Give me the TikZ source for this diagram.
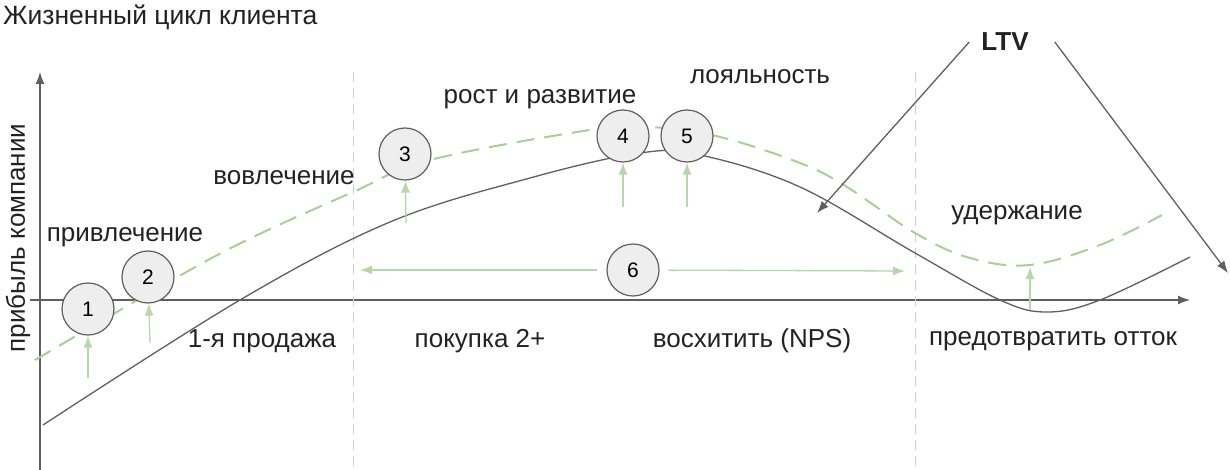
\documentclass[tikz,border=0pt]{standalone}
\usepackage{fontspec}
\setmainfont{Liberation Sans}
\usetikzlibrary{arrows.meta}
\definecolor{axisgrey}{HTML}{5F5F5F}
\definecolor{pushgreen}{HTML}{B6D7A8}
\definecolor{dashgreen}{HTML}{A8CF96}
\definecolor{stagefill}{HTML}{EEEEEE}
\definecolor{sepgrey}{HTML}{D0D0D0}
\definecolor{textgrey}{HTML}{222222}
\tikzset{
  stage/.style={circle,draw=axisgrey,fill=stagefill,line width=1.2pt,minimum size=52pt,inner sep=0pt,font=\fontsize{21}{21}\selectfont},
  lbl/.style={text=textgrey,inner sep=0pt,font=\fontsize{26}{29}\selectfont},
  push/.style={->,draw=pushgreen,line width=1.3pt},
  grey/.style={axisgrey,line width=1.3pt}
}
\begin{document}
\begin{tikzpicture}[x=1pt,y=-1pt,>={Latex[length=12pt,width=9pt]}]
\useasboundingbox (0,0) rectangle (1230,470);
% axes and stage borders
\draw[->,grey] (40,470)--(40,72);
\draw[->,grey] (30,300)--(1190,300);
\foreach \x in {353,915}
    \draw[sepgrey,line width=1pt,dash pattern=on 10pt off 6pt] (\x,72)--(\x,470);

% profit curve and target curve
\draw[grey] plot[smooth,tension=0.6] coordinates {(43,425) (240,300) (390,222) (530,178) (640,153) (700,155) (800,187) (915,253) (1000,300) (1047,312) (1100,300) (1190,257)};
\draw[dashgreen,line width=2pt,dash pattern=on 18pt off 10pt] plot[smooth,tension=0.6] coordinates {(35,360) (167,283) (247,240) (353,192) (430,160) (590,130) (650,127) (720,137) (800,163) (847,187) (915,233) (970,258) (1030,265) (1100,245) (1162,215)};

% numbered stages
\foreach \n/\x/\y in {1/88/309,2/148/277,3/405/154,4/623/136,5/687/136,6/633/270}
{
    \node[stage] (c\n) at (\x,\y) {\n};
}
\foreach \n/\x/\y in {1/88/378,2/150/343,3/406/223,4/623/207,5/687/207}
{
    \coordinate (t\n) at (\x,\y);
    \draw[push] (t\n)--(c\n);
}
\coordinate (tr) at (1030,310);
\coordinate (dip) at (1030,267);
\draw[push] (tr)--(dip);
\coordinate (l6) at (360,270);
\coordinate (r6) at (905,271);
\draw[push,shorten <=9pt] (c6)--(l6);
\draw[push,shorten <=9pt] (c6)--(r6);

% LTV
\node[lbl,font=\bfseries\fontsize{26}{29}\selectfont] (ltv) at (1005,42) {LTV};
\coordinate (ltvl) at (817,213);
\coordinate (ltvr) at (1228,273);
\draw[->,grey] ([xshift=-12pt]ltv.west)--(ltvl);
\draw[->,grey] ([xshift=26pt]ltv.east)--(ltvr);

% texts
\node[lbl,anchor=west,font=\fontsize{26.5}{29}\selectfont] (title) at (3,17) {Жизненный цикл клиента};
\node[lbl,rotate=90] (profit) at (18,238) {прибыль компании};
\node[lbl] (attract) at (125,237) {привлечение};
\node[lbl] (engage) at (284,178) {вовлечение};
\node[lbl] (grow) at (540,99) {рост и развитие};
\node[lbl] (loyal) at (760,77) {лояльность};
\node[lbl] (retain) at (1017,215) {удержание};
\node[lbl] (first) at (262,341) {1-я продажа};
\node[lbl] (repeat) at (480,341) {покупка 2+};
\node[lbl] (delight) at (752,341) {восхитить (NPS)};
\node[lbl] (churn) at (1053,341) {предотвратить отток};
\end{tikzpicture}
\end{document}
